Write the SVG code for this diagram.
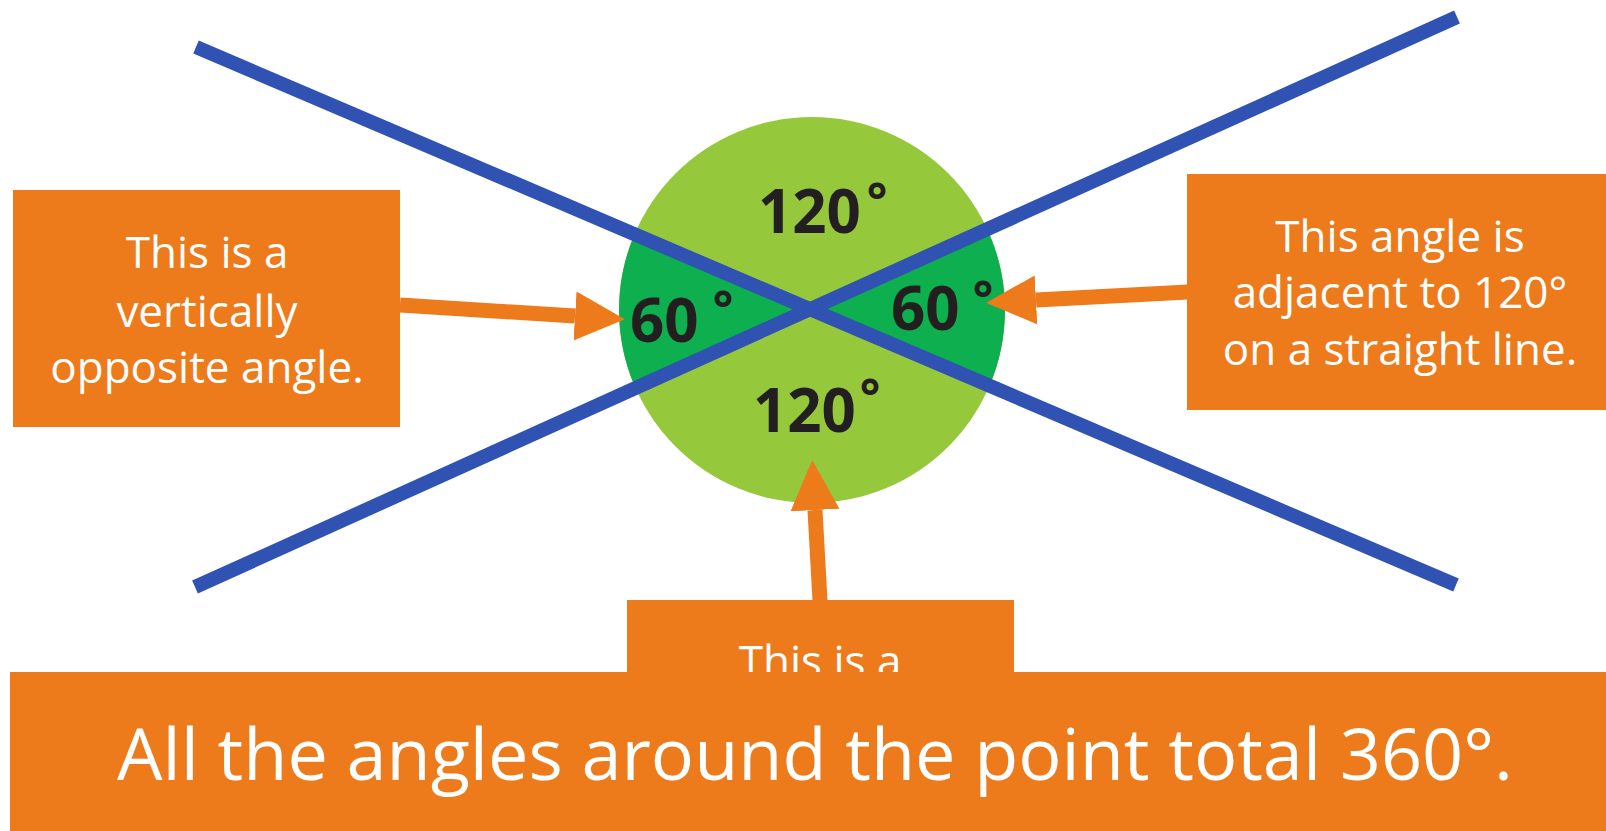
<svg xmlns="http://www.w3.org/2000/svg" width="1606" height="831" viewBox="0 0 1606 831">
<defs>
<style>
.box{fill:#ED7A1B}
.lbl{font-family:"Open Sans","Liberation Sans",sans-serif;font-size:44px;fill:#FFFFFF;text-anchor:middle}
.num{font-family:"Open Sans","Liberation Sans",sans-serif;font-weight:bold;font-size:60px;fill:#231F20}
.deg{font-family:"Open Sans","Liberation Sans",sans-serif;font-weight:bold;font-size:48px;fill:#231F20;text-anchor:middle}
.ray{stroke:#2F52B3;stroke-width:14;stroke-linecap:butt}
.arrow{stroke:#ED7A1B;stroke-width:15;fill:none;marker-end:url(#head)}
</style>
<marker id="head" markerUnits="userSpaceOnUse" markerWidth="50" markerHeight="50" viewBox="0 0 47 46" refX="0" refY="23" orient="auto">
<path d="M0,0 L47,23 L0,46 Z" fill="#ED7A1B"/>
</marker>
<clipPath id="circ"><circle cx="812" cy="310" r="193"/></clipPath>
</defs>
<rect width="1606" height="831" fill="#FFFFFF"/>
<g id="angles">
<circle cx="812" cy="310" r="193" fill="#96C83C"/>
<g clip-path="url(#circ)" fill="#0DAF4E">
<polygon points="810,309 560,200 560,424"/>
<polygon points="810,309 1060,194 1060,418"/>
</g>
</g>
<g id="lines">
<line class="ray" x1="196" y1="47" x2="1456" y2="585"/>
<line class="ray" x1="195" y1="587" x2="1457" y2="17"/>
</g>
<g id="labels">
<text class="num" x="758" y="233">120</text>
<text class="deg" x="877" y="218">°</text>
<text class="num" x="630" y="342">60</text>
<text class="deg" x="723" y="326">°</text>
<text class="num" x="891" y="330">60</text>
<text class="deg" x="983" y="316">°</text>
<text class="num" x="753" y="432">120</text>
<text class="deg" x="870" y="414">°</text>
</g>
<g id="connectors">
<line class="arrow" x1="400" y1="305" x2="575" y2="316"/>
<line class="arrow" x1="1188" y1="292" x2="1036" y2="300"/>
<line class="arrow" x1="820" y1="601" x2="815" y2="510"/>
</g>
<g id="node-left">
<rect class="box" x="13" y="190" width="387" height="237"/>
<text class="lbl" x="207" y="268">This is a</text>
<text class="lbl" x="207" y="327">vertically</text>
<text class="lbl" x="207" y="383">opposite angle.</text>
</g>
<g id="node-right">
<rect class="box" x="1187" y="174" width="419" height="236"/>
<text class="lbl" x="1400" y="252">This angle is</text>
<text class="lbl" x="1400" y="308">adjacent to 120°</text>
<text class="lbl" x="1400" y="365">on a straight line.</text>
</g>
<g id="node-bottom">
<rect class="box" x="627" y="600" width="387" height="90"/>
<text class="lbl" x="820" y="677">This is a</text>
</g>
<g id="node-total">
<rect class="box" x="10" y="672" width="1596" height="159"/>
<text class="lbl" x="815" y="780" style="font-size:72px">All the angles around the point total 360°.</text>
</g>
</svg>
